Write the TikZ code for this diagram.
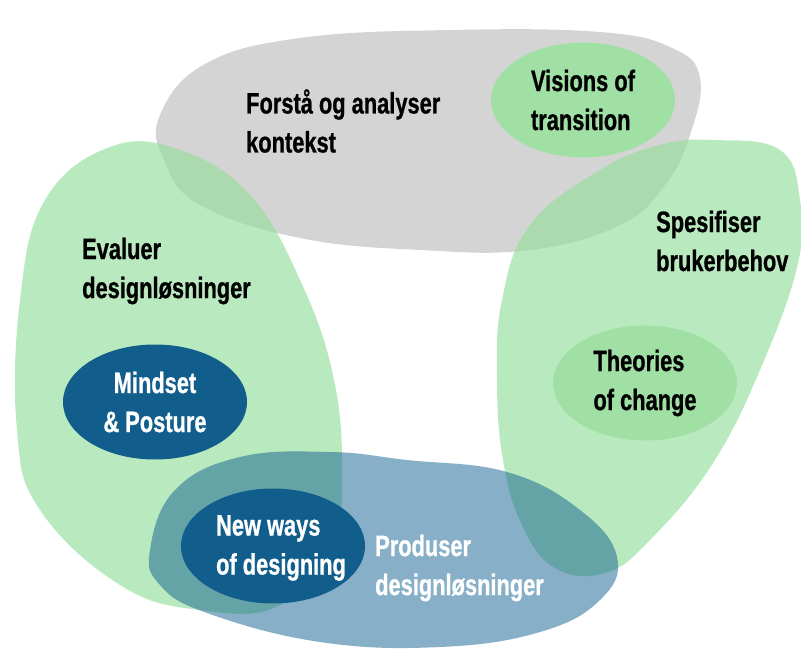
\documentclass[tikz,border=0pt]{standalone}
\usepackage{fontspec}
\IfFontExistsTF{Liberation Sans Narrow}
  {\setmainfont{Liberation Sans Narrow}[FakeStretch=0.9, BoldFeatures={FakeBold=0.8}]}
  {\setmainfont{Liberation Sans}[FakeStretch=0.74, BoldFeatures={FakeBold=0.8}]}
\usepackage{xcolor}
\usepackage{tikz}
\usetikzlibrary{positioning,shapes.geometric}
\definecolor{greyzone}{RGB}{212,212,212}
\definecolor{greenzone}{RGB}{151,222,158}
\definecolor{bluezone}{RGB}{15,95,143}
\definecolor{deepblue}{RGB}{17,94,140}
\definecolor{softgreen}{RGB}{161,224,164}
\tikzset{
  greyblob/.style={fill=greyzone},
  greenblob/.style={fill=greenzone, fill opacity=0.67},
  blueblob/.style={fill=bluezone, fill opacity=0.5},
  bubble/.style={ellipse, fill=softgreen, minimum width=184pt, minimum height=115pt, inner sep=0pt},
  darkbubble/.style={ellipse, fill=deepblue, minimum width=184pt, minimum height=115pt, inner sep=0pt},
  lbl/.style={font=\fontsize{29.5}{39}\selectfont\bfseries, align=left, inner sep=0pt, anchor=west, text=black},
  lblw/.style={lbl, text=white},
}

\begin{document}
\begin{tikzpicture}[x=1pt, y=-1pt]
\useasboundingbox (0,0) rectangle (801,650);
% ---- zones ----
\fill[greyblob] plot[smooth cycle, tension=0.7] coordinates {(160,115) (205,64) (300,38) (450,30) (600,32) (672,48) (700,78) (690,135) (665,185) (620,225) (530,250) (420,250) (300,238) (200,205) (164,160)};
\fill[greenblob] plot[smooth cycle, tension=0.7] coordinates {(20,300) (45,200) (110,147) (180,150) (250,195) (300,280) (333,375) (342,470) (332,540) (280,605) (200,610) (120,585) (40,510) (17,430)};
\fill[greenblob] plot[smooth cycle, tension=0.7] coordinates {(713,140) (780,150) (800,200) (798,263) (763,363) (713,463) (650,540) (605,573) (555,568) (522,525) (503,460) (497,380) (502,300) (530,225) (600,170) (660,145)};
\fill[blueblob] plot[smooth cycle, tension=0.7] coordinates {(150,550) (175,490) (240,457) (330,452) (407,460) (507,472) (580,510) (617,557) (600,600) (540,632) (440,647) (320,642) (207,613) (160,585)};
% ---- inner ellipses ----
\node[bubble] (vis) at (583,100) {};
\node[bubble] (toc) at (645,383) {};
\node[darkbubble] (mind) at (155,402) {};
\node[darkbubble] (nwd) at (273,546) {};
% ---- texts ----
\node[lbl] (forsta) at (246,121) {Forstå og analyser\\kontekst};
\node[lbl] (spes) at (656,241) {Spesifiser\\brukerbehov};
\node[lbl] (eval) at (82,271) {Evaluer\\designløsninger};
\node[lblw] (prod) at (375,568) {Produser\\designløsninger};
\node[lbl, anchor=center] (vis_t) at (vis.center) {Visions of\\transition};
\node[lbl, anchor=center] (toc_t) at (toc.center) {Theories\\of change};
\node[lblw, anchor=center, align=center] (mind_t) at (mind.center) {Mindset\\\& Posture};
\node[lblw, anchor=center] (nwd_t) at (281,548) {New ways\\of designing};
\end{tikzpicture}
\end{document}
